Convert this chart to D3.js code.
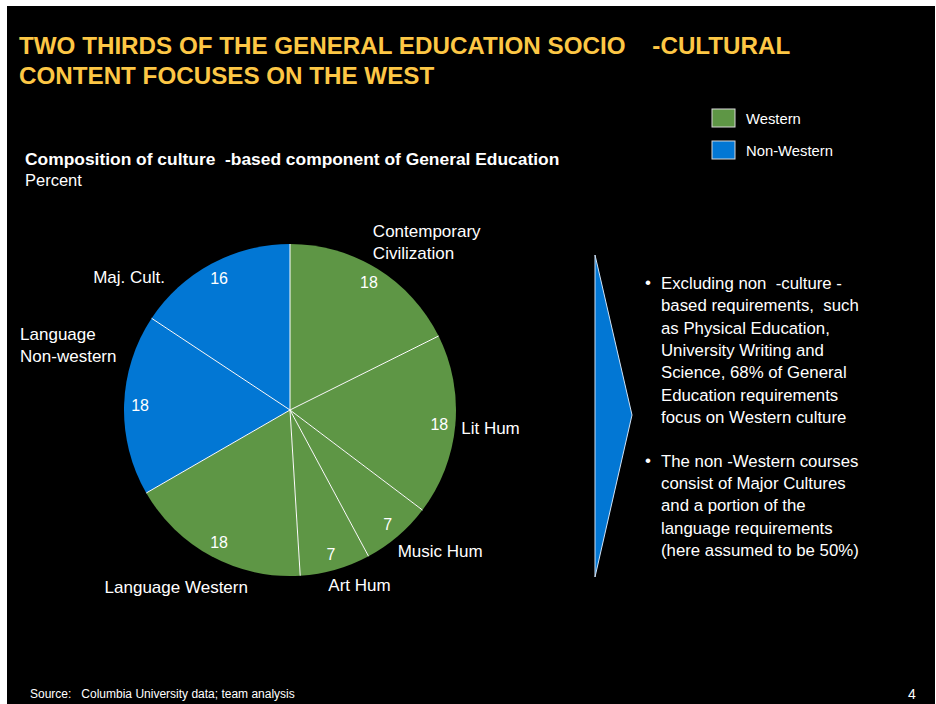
<!DOCTYPE html>
<html>
<head>
<meta charset="utf-8" />
<title>General Education socio-cultural content</title>
<style>
  html, body { margin: 0; padding: 0; background: #fff; }
  svg { display: block; font-family: "Liberation Sans", Arial, sans-serif; }
  text { white-space: pre; }
</style>
</head>
<body>
<div id="chart"></div>
<script src="https://cdn.jsdelivr.net/npm/d3@7/dist/d3.min.js"></script>
<script>
// data
var categories = ["Contemporary Civilization", "Lit Hum", "Music Hum", "Art Hum",
                  "Language Western", "Language Non-western", "Maj. Cult."];
var values = [18, 18, 7, 7, 18, 18, 16];
var regions = ["Western", "Western", "Western", "Western", "Western", "Non-Western", "Non-Western"];
var legendKeys = ["Western", "Non-Western"];
var labelLines = [["Contemporary", "Civilization"], ["Lit Hum"], ["Music Hum"], ["Art Hum"],
                  ["Language Western"], ["Language", "Non-western"], ["Maj. Cult."]];
var titleLines = ["TWO THIRDS OF THE GENERAL EDUCATION SOCIO    -CULTURAL",
                  "CONTENT FOCUSES ON THE WEST"];
var bullets = [
  ["Excluding non  -culture -", "based requirements,  such", "as Physical Education,",
   "University Writing and", "Science, 68% of General", "Education requirements",
   "focus on Western culture"],
  ["The non -Western courses", "consist of Major Cultures", "and a portion of the",
   "language requirements", "(here assumed to be 50%)"]
];

var width = 936, height = 704;
var cx = 290, cy = 410, radius = 166;

// hand placed outside labels (anchor, dx, dy from a point just outside the arc)
var labelNudge = [
  ["start", -14, -16.5], ["start", -12, 7], ["start", -12, 7], ["start", -12, 4],
  ["end", 45, 21], ["start", -86, -64.5], ["end", -38, 35]
];

var color = d3.scaleOrdinal(legendKeys, ["#5e9645", "#0277d4"]);

var svg = d3.select("#chart").append("svg")
    .attr("width", width)
    .attr("height", height);

svg.append("rect")
    .attr("x", 7).attr("y", 6)
    .attr("width", width - 8).attr("height", height - 6)
    .attr("fill", "#000");

// title
svg.append("g")
    .selectAll("text")
    .data(titleLines)
    .join("text")
    .attr("x", 19)
    .attr("y", (d, i) => 54 + i * 30)
    .attr("fill", "#fdc745")
    .attr("font-size", 24.2)
    .attr("font-weight", "bold")
    .text(d => d);

svg.append("text")
    .attr("x", 25).attr("y", 165)
    .attr("fill", "#fff")
    .attr("font-size", 17.4)
    .attr("font-weight", "bold")
    .text("Composition of culture  -based component of General Education");
svg.append("text")
    .attr("x", 25).attr("y", 186)
    .attr("fill", "#fff")
    .attr("font-size", 16.5)
    .text("Percent");

// legend
var legend = svg.append("g")
    .selectAll("g")
    .data(legendKeys)
    .join("g")
    .attr("transform", (d, i) => `translate(712,${109 + i * 32})`);
legend.append("rect")
    .attr("width", 23).attr("height", 18)
    .attr("fill", d => color(d))
    .attr("stroke", "#d8d8d8");
legend.append("text")
    .attr("x", 34).attr("y", 15)
    .attr("fill", "#fff")
    .attr("font-size", 14.8)
    .text(d => d);

// pie
var pie = d3.pie().sort(null).value(d => d);
var arcs = pie(values);
var arc = d3.arc().innerRadius(0).outerRadius(radius);

var g = svg.append("g").attr("transform", `translate(${cx},${cy})`);

g.selectAll("path.slice")
    .data(arcs)
    .join("path")
    .attr("class", "slice")
    .attr("d", arc)
    .attr("fill", (d, i) => color(regions[i]));

g.selectAll("line.sep")
    .data(arcs)
    .join("line")
    .attr("class", "sep")
    .attr("x1", 0).attr("y1", 0)
    .attr("x2", d => d3.pointRadial(d.startAngle, radius)[0])
    .attr("y2", d => d3.pointRadial(d.startAngle, radius)[1])
    .attr("stroke", "#fff")
    .attr("stroke-width", 1);

var mid = d => (d.startAngle + d.endAngle) / 2;

g.selectAll("text.val")
    .data(arcs)
    .join("text")
    .attr("class", "val")
    .attr("x", d => d3.pointRadial(mid(d), 150)[0])
    .attr("y", d => d3.pointRadial(mid(d), 150)[1])
    .attr("dy", "0.36em")
    .attr("text-anchor", "middle")
    .attr("fill", "#fff")
    .attr("font-size", 16)
    .text(d => d.data);

g.selectAll("text.cat")
    .data(arcs)
    .join("text")
    .attr("class", "cat")
    .attr("fill", "#fff")
    .attr("font-size", 17)
    .attr("text-anchor", (d, i) => labelNudge[i][0])
    .each(function (d, i) {
      var p = d3.pointRadial(mid(d), radius + 18);
      var x = p[0] + labelNudge[i][1], y = p[1] + labelNudge[i][2];
      d3.select(this).selectAll("tspan")
        .data(labelLines[i])
        .join("tspan")
        .attr("x", x)
        .attr("y", (t, j) => y + j * 22)
        .text(t => t);
    });

// chevron pointing at the notes
svg.append("path")
    .attr("d", d3.line()([[595, 255], [632, 415], [595, 577]]) + "Z")
    .attr("fill", "#0277d4")
    .attr("stroke", "#cfe2f6")
    .attr("stroke-width", 1);

// notes
var notes = svg.append("g");
var lineY = 289;
bullets.forEach(function (lines, k) {
  notes.append("text")
      .attr("x", 645).attr("y", lineY - 1)
      .attr("fill", "#fff")
      .attr("font-size", 17)
      .text("\u2022");
  lines.forEach(function (t) {
    notes.append("text")
        .attr("x", 661).attr("y", lineY)
        .attr("fill", "#fff")
        .attr("font-size", 16.8)
        .text(t);
    lineY += 22.3;
  });
  lineY += 21.7;
});

// footer
svg.append("text")
    .attr("x", 30).attr("y", 698)
    .attr("fill", "#fff")
    .attr("font-size", 12)
    .text("Source:   Columbia University data; team analysis");
svg.append("text")
    .attr("x", 908).attr("y", 699)
    .attr("fill", "#fff")
    .attr("font-size", 14)
    .text("4");
</script>
</body>
</html>
